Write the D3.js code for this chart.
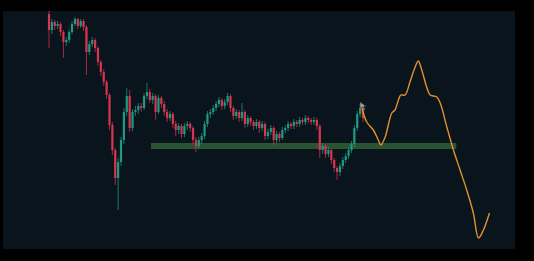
<!DOCTYPE html>
<html>
<head>
<meta charset="utf-8">
<script src="https://cdn.jsdelivr.net/npm/d3@7"></script>
<style>
    html, body { margin: 0; padding: 0; background: #000; }
    svg { display: block; }
</style>
</head>
<body>
<div id="chart"></div>
<script>
    // candles, open = previous close
    const firstOpen = 236;
    const closes = [220, 228, 224, 226, 218, 208, 210, 218, 226, 231,
        224, 229, 223, 198, 206, 210, 202, 188, 178, 168,
        155, 125, 100, 72, 88, 110, 138, 154, 122, 138,
        140, 144, 142, 154, 158, 150, 154, 138, 152, 146,
        138, 132, 136, 126, 120, 124, 116, 124, 126, 122,
        110, 104, 110, 114, 126, 136, 138, 142, 146, 150,
        144, 148, 154, 142, 134, 138, 132, 138, 126, 132,
        128, 124, 128, 122, 126, 114, 118, 122, 110, 116,
        112, 120, 122, 126, 124, 128, 126, 130, 128, 132,
        130, 128, 130, 124, 100, 104, 96, 100, 90, 82,
        78, 84, 90, 94, 100, 106, 122, 136, 142, 132];
    const highs = [239, 231, 230, 229, 228, 220, 213, 220, 229, 233,
        232, 231, 231, 225, 209, 213, 212, 204, 190, 181,
        170, 157, 128, 102, 92, 113, 142, 162, 160, 141,
        144, 147, 147, 157, 167, 161, 157, 156, 155, 154,
        149, 141, 139, 138, 129, 127, 126, 127, 129, 128,
        124, 113, 113, 117, 129, 139, 141, 145, 149, 153,
        152, 151, 157, 156, 144, 141, 140, 147, 140, 135,
        134, 130, 131, 130, 129, 128, 121, 125, 124, 119,
        118, 123, 125, 129, 128, 131, 130, 133, 132, 135,
        134, 132, 133, 132, 126, 107, 106, 103, 102, 92,
        84, 87, 93, 97, 103, 109, 125, 139, 146, 144];
    const lows = [202, 216, 220, 221, 214, 192, 204, 207, 216, 224,
        221, 222, 219, 175, 195, 203, 198, 184, 174, 164,
        151, 120, 95, 65, 40, 84, 106, 134, 118, 119,
        134, 136, 138, 140, 151, 147, 146, 130, 136, 142,
        134, 128, 129, 122, 114, 116, 112, 113, 120, 118,
        106, 98, 101, 106, 111, 123, 132, 135, 139, 143,
        140, 141, 145, 138, 130, 131, 128, 129, 122, 123,
        124, 120, 121, 117, 119, 110, 111, 115, 105, 107,
        108, 110, 117, 119, 121, 121, 123, 123, 125, 125,
        127, 125, 125, 120, 92, 96, 92, 93, 86, 78,
        70, 74, 81, 87, 91, 97, 103, 119, 133, 128];

    // projected path (candle index, price)
    const projIdx = [108.6, 110.3, 112.6, 114.3, 115.2, 116.7, 119, 120.1, 121.3, 122.1,
        123.6, 125.3, 127.1, 128.2, 129.4, 131.1, 132.3, 134.6, 135.8, 138.1,
        140.4, 142.7, 145, 147.3, 149.1, 150.8, 152.9];
    const projValue = [142, 128, 120, 110, 105, 113, 137, 140, 150, 155,
        155, 168, 183, 189, 180, 163, 155, 153, 147, 123,
        100, 80, 60, 37, 12, 20, 37];

    // support zone
    const zoneRange = [35.4, 141.4];
    const zonePrice = [101, 107];

    const width = 534, height = 261;
    const panel = {left: 3, top: 11, right: 515, bottom: 249};

    const svg = d3.select("#chart").append("svg")
        .attr("width", width).attr("height", height);

    // soften like a video frame
    svg.append("defs").append("filter").attr("id", "soft")
        .append("feGaussianBlur").attr("stdDeviation", 0.35);

    svg.append("rect").attr("width", width).attr("height", height).attr("fill", "#000");
    svg.append("rect")
        .attr("x", panel.left).attr("y", panel.top)
        .attr("width", panel.right - panel.left).attr("height", panel.bottom - panel.top)
        .attr("fill", "#0a141c");

    const x = d3.scaleLinear().domain([0, closes.length - 1]).range([49, 363]);
    const y = d3.scaleLinear().domain([1, 239]).range([panel.bottom, panel.top]);

    const candles = closes.map((c, i) => ({
        i: i,
        open: i === 0 ? firstOpen : closes[i - 1],
        close: c,
        high: highs[i],
        low: lows[i]
    }));

    const up = "#1b9a83", down = "#d8344f";

    // zone
    svg.append("rect")
        .attr("x", x(zoneRange[0]))
        .attr("y", y(zonePrice[1]))
        .attr("width", x(zoneRange[1]) - x(zoneRange[0]))
        .attr("height", y(zonePrice[0]) - y(zonePrice[1]))
        .attr("fill", "#2c5634")
        .attr("opacity", 0.95);

    const g = svg.append("g").attr("class", "candles").attr("filter", "url(#soft)");

    g.selectAll(".wick").data(candles).enter().append("line")
        .attr("class", "wick")
        .attr("x1", d => x(d.i)).attr("x2", d => x(d.i))
        .attr("y1", d => y(d.high)).attr("y2", d => y(d.low))
        .attr("stroke", d => d.close >= d.open ? up : down)
        .attr("stroke-width", 1)
        .attr("opacity", 0.75);

    g.selectAll(".body").data(candles).enter().append("rect")
        .attr("class", "body")
        .attr("x", d => x(d.i) - 1.1)
        .attr("y", d => y(Math.max(d.open, d.close)))
        .attr("width", 2.2)
        .attr("height", d => Math.max(1, Math.abs(y(d.open) - y(d.close))))
        .attr("fill", d => d.close >= d.open ? up : down);

    // projection
    const projection = projIdx.map((d, i) => [d, projValue[i]]);
    const line = d3.line().curve(d3.curveCatmullRom.alpha(0.5))
        .x(d => x(d[0]))
        .y(d => y(d[1]));

    svg.append("path")
        .datum(projection)
        .attr("d", line)
        .attr("fill", "none")
        .attr("stroke", "#e3922b")
        .attr("stroke-width", 1.4);

    // mouse pointer left on the last candle
    const last = candles[candles.length - 2];
    const cx = x(last.i), cy = y(last.high) - 2;
    svg.append("path")
        .attr("d", `M${cx},${cy} l0,7 l2,-2 l2,3 l1,-0.5 l-2,-3 l3,0 z`)
        .attr("fill", "#9aa0a6")
        .attr("stroke", "#333")
        .attr("stroke-width", 0.4);
</script>
</body>
</html>
